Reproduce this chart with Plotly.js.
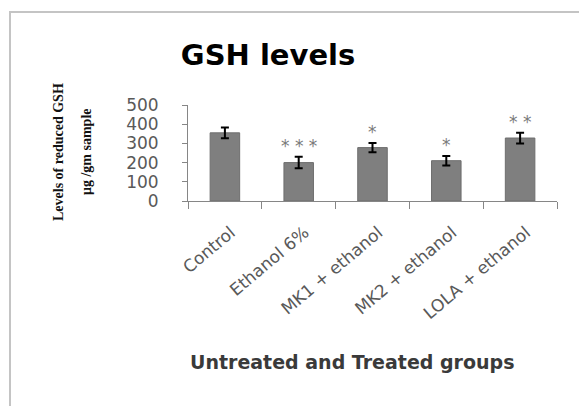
<!DOCTYPE html>
<html>
<head>
<meta charset="utf-8">
<script src="https://cdn.plot.ly/plotly-3.0.1.min.js"></script>
<style>
  html, body { margin: 0; padding: 0; background: #fff; }
  #wrap { position: relative; width: 579px; height: 406px; overflow: hidden; }
  #chart { width: 579px; height: 406px; }
  #frame { position: absolute; left: 9px; top: 11px; width: 600px; height: 420px;
           border-top: 2px solid #c4c4c4; border-left: 2px solid #c4c4c4; pointer-events: none; }
</style>
</head>
<body>
<div id="wrap">
  <div id="chart"></div>
  <div id="frame"></div>
</div>
<script>
const categories = ["Control", "Ethanol 6%", "MK1 + ethanol", "MK2 + ethanol", "LOLA + ethanol"];
const gshValues  = [355, 200, 278, 210, 328];
const gshErrors  = [28, 30, 24, 25, 28];
const significance = ["", "* * *", "*", "*", "* *"];
const yTicks = [0, 100, 200, 300, 400, 500];

const sans = "'DejaVu Sans', Verdana, sans-serif";
const serif = "'Liberation Serif', 'DejaVu Serif', serif";

const barTrace = {
  type: "bar",
  x: categories,
  y: gshValues,
  width: 0.4,
  marker: { color: "#7f7f7f", line: { color: "#6e6e6e", width: 1 } },
  error_y: { type: "data", array: gshErrors, visible: true, color: "#000000", thickness: 2, width: 4 },
  hoverinfo: "none"
};

const starAnnotations = categories.map((c, i) => ({
  x: c, y: gshValues[i] + gshErrors[i], xref: "x", yref: "y",
  text: significance[i], showarrow: false, yanchor: "bottom", yshift: -1,
  font: { family: sans, size: 17, color: "#7a7a7a" }
})).filter(a => a.text);

const titleAnnotations = [
  { text: "<b>Untreated and Treated groups</b>", xref: "paper", yref: "paper",
    x: (352 - 188) / 369, y: -(362 - 201) / 96, xanchor: "center", yanchor: "middle",
    showarrow: false, font: { family: sans, size: 19, color: "#3a3a3a" } },
  { text: "<b>Levels of reduced GSH</b>", xref: "paper", yref: "paper",
    x: (58 - 188) / 369, y: (201 - 152) / 96, xanchor: "center", yanchor: "middle", textangle: -90,
    showarrow: false, font: { family: serif, size: 14, color: "#111111" } },
  { text: "<b>μg /gm sample</b>", xref: "paper", yref: "paper",
    x: (86 - 188) / 369, y: (201 - 152) / 96, xanchor: "center", yanchor: "middle", textangle: -90,
    showarrow: false, font: { family: serif, size: 14, color: "#111111" } }
];

const layout = {
  width: 579, height: 406,
  margin: { l: 188, r: 22, t: 105, b: 205 },
  paper_bgcolor: "#ffffff", plot_bgcolor: "#ffffff",
  showlegend: false,
  title: {
    text: "<b>GSH levels</b>",
    font: { family: sans, size: 29, color: "#000000" },
    xref: "container", yref: "container", x: 0.463, y: 0.865, xanchor: "center", yanchor: "middle"
  },
  xaxis: {
    type: "category",
    tickangle: -40,
    ticks: "outside", ticklen: 7, tickcolor: "#868686", tickson: "boundaries",
    ticklabelstandoff: 14, ticklabelshift: 6,
    showline: true, linecolor: "#868686", linewidth: 1,
    showgrid: false, zeroline: false,
    tickfont: { family: sans, size: 17, color: "#595959" },
    automargin: false
  },
  yaxis: {
    range: [0, 500],
    tickvals: yTicks,
    ticktext: yTicks.map(String),
    ticks: "outside", ticklen: 5, tickcolor: "#868686",
    ticklabelstandoff: 20,
    showline: true, linecolor: "#868686", linewidth: 1,
    showgrid: false, zeroline: false,
    tickfont: { family: sans, size: 17, color: "#595959" },
    automargin: false
  },
  annotations: starAnnotations.concat(titleAnnotations)
};

Plotly.newPlot("chart", [barTrace], layout, { displayModeBar: false, staticPlot: true });
</script>
</body>
</html>
